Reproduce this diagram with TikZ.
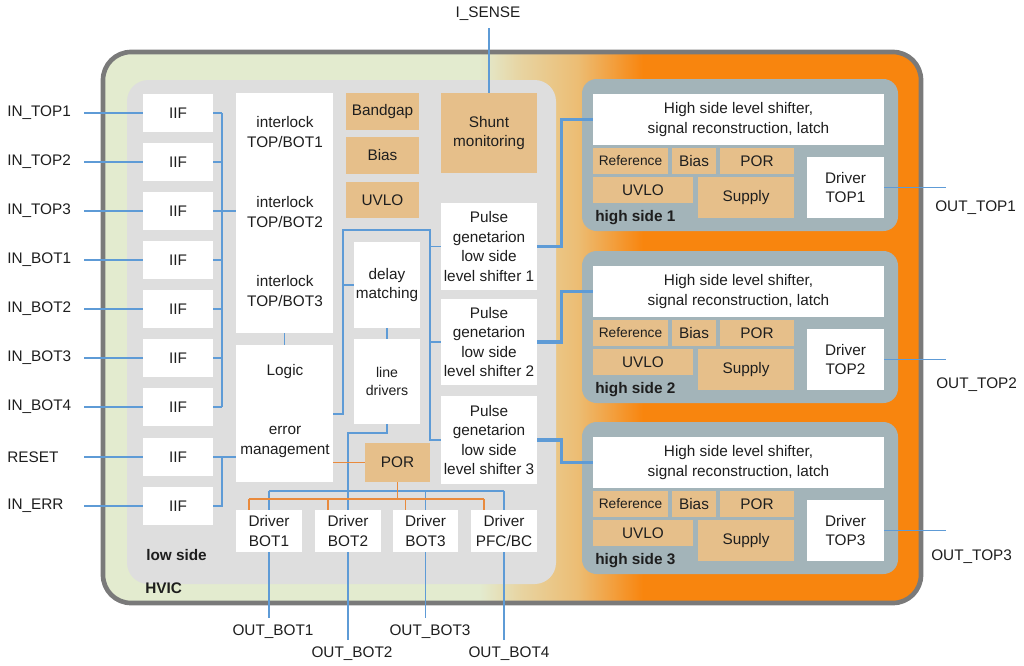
\documentclass[tikz,border=0pt]{standalone}
\usepackage{fontspec}
\setmainfont{Liberation Sans}
\usetikzlibrary{calc}
\definecolor{hvg}{HTML}{E3EBCF}
\definecolor{hvt}{HTML}{ECBD74}
\definecolor{hvo}{HTML}{F8850E}
\colorlet{hvm}{hvg!50!hvt}
\definecolor{tanc}{HTML}{E6BF8A}
\definecolor{lsg}{HTML}{DEDEDE}
\definecolor{hsg}{HTML}{A3B4B9}
\definecolor{bluel}{HTML}{5E9BD6}
\definecolor{orl}{HTML}{E98A3C}
\definecolor{bord}{HTML}{7A7A7A}
\definecolor{txt}{HTML}{1E1E1E}
\pgfdeclarehorizontalshading{hvicshade}{100bp}{color(0bp)=(hvg); color(48bp)=(hvg); color(50.5bp)=(hvm); color(54bp)=(hvt); color(58bp)=(hvo); color(100bp)=(hvo)}
\newcommand{\fsn}{\fontsize{11.5}{14.6}\selectfont}
\newcommand{\fsm}{\fontsize{10.6}{13}\selectfont}
\newcommand{\fss}{\fontsize{10.3}{12}\selectfont}
\newcommand{\fsb}{\fontsize{11.5}{14.6}\selectfont\bfseries}
\newcommand{\bx}[7]{\node[#2, minimum width={((#5)-(#3))*0.75pt}, minimum height={((#6)-(#4))*0.75pt}] (#1) at ({((#3)+(#5))/2},{((#4)+(#6))/2}) {#7};}
\begin{document}
\begin{tikzpicture}[x=0.75pt,y=-0.75pt,
  every node/.style={font=\fsn, text=txt},
  wbox/.style={fill=white, inner sep=0pt, align=center},
  tbox/.style={fill=tanc, inner sep=0pt, align=center},
  hspanel/.style={fill=hsg, inner sep=0pt, rounded corners=11pt},
  bl/.style={draw=bluel, line width=1.1pt},
  blt/.style={draw=bluel, line width=2.3pt},
  ol/.style={draw=orl, line width=1.1pt},
  lbl/.style={inner sep=0pt}]
\useasboundingbox (0,0) rectangle (1024,665);
% HVIC background
\shade[shading=hvicshade, draw=bord, line width=3.5pt, rounded corners=21pt] (103,52) rectangle (921,603);
\bx{lowside}{fill=lsg, inner sep=0pt, rounded corners=16pt}{127}{80}{556}{584}{}
\node[font=\fsb, lbl, anchor=west] (lsl) at (146,555) {low side};
\node[font=\fsb, lbl, anchor=west] (hvl) at (145,588) {HVIC};
% IIF inputs
\foreach \c/\t [count=\i] in {113/IN\_TOP1,162/IN\_TOP2,211/IN\_TOP3,260/IN\_BOT1,309/IN\_BOT2,358/IN\_BOT3,407/IN\_BOT4,457/RESET,506/IN\_ERR}{
  \bx{iif\i}{wbox}{143}{\c-19}{213}{\c+19}{IIF}
  \node[lbl, anchor=west] (in\i) at (7,\c) {\t};
  \coordinate (inp\i) at (84,\c);
  \draw[bl] (inp\i) -- (iif\i.west);
}
% interlock and logic
\bx{ilk}{wbox}{236}{93}{333}{333}{}
\node[align=center] (ilt1) at (285,132) {interlock\\TOP/BOT1};
\node[align=center] (ilt2) at (285,212) {interlock\\TOP/BOT2};
\node[align=center] (ilt3) at (285,291) {interlock\\TOP/BOT3};
\bx{logic}{wbox}{236}{345}{333}{482}{}
\node (lgt) at (285,372) {Logic};
\node[align=center] (emt) at (285,442) {error\\management};
% tan blocks
\bx{bg}{tbox}{346}{93}{419}{130}{Bandgap}
\bx{bias}{tbox}{346}{137}{419}{174}{Bias}
\bx{uvlo}{tbox}{346}{182}{419}{218}{UVLO}
\bx{shunt}{tbox}{441}{93}{537}{173}{Shunt\\monitoring}
\bx{por}{tbox}{365}{443}{430}{482}{POR}
% pulse generators
\bx{pg1}{wbox}{441}{203}{537}{290}{Pulse\\genetarion\\low side\\level shifter 1}
\bx{pg2}{wbox}{441}{299}{537}{385}{Pulse\\genetarion\\low side\\level shifter 2}
\bx{pg3}{wbox}{441}{396}{537}{484}{Pulse\\genetarion\\low side\\level shifter 3}
\bx{dm}{wbox}{354}{242}{420}{328}{delay\\matching}
\bx{ld}{wbox,font=\fsm}{354}{339}{420}{424}{line\\drivers}
% low side drivers
\bx{d1}{wbox}{236}{510}{302}{552}{Driver\\BOT1}
\bx{d2}{wbox}{315}{510}{381}{552}{Driver\\BOT2}
\bx{d3}{wbox}{393}{510}{458}{552}{Driver\\BOT3}
\bx{d4}{wbox}{471}{510}{537}{552}{Driver\\PFC/BC}
% IIF buses
\coordinate (busT) at (222,113);
\coordinate (busB) at (222,407);
\draw[bl] (busT) -- (busB);
\foreach \i in {1,...,7} \draw[bl] (iif\i.east) -- (iif\i.east -| busT);
\draw[bl] (iif3.east -| busT) -- (iif3.east -| ilk.west);
\draw[bl] (iif8.east) -- (iif8.east -| busT) -- (iif9.east -| busT) -- (iif9.east);
\draw[bl] (iif8.east -| busT) -- (iif8.east -| logic.west);
\draw[bl] (ilk.south) -- (logic.north);
% logic to pulse generators
\coordinate (a1) at (343,414);
\coordinate (a2) at (343,230);
\coordinate (a3) at (430,230);
\draw[bl] (a1 -| logic.east) -- (a1) -- (a2) -- (a3) -- (a3 |- pg3.west) -- (pg3.west);
\draw[bl] (dm.west -| a1) -- (dm.west);
\draw[bl] (pg1.west -| a3) -- (pg1.west);
\draw[bl] (pg2.west -| a3) -- (pg2.west);
\draw[bl] (dm.south) -- (ld.north);
% line drivers to drivers
\coordinate (b1) at (348,433);
\coordinate (b2) at (0,491);
\draw[bl] (ld.south) -- (ld.south |- b1) -- (b1) -- (d2.north);
\draw[bl] (d1.north |- b2) -- (d4.north |- b2);
\foreach \d in {d1,d3,d4} \draw[bl] (\d.north |- b2) -- (\d.north);
% POR distribution
\draw[ol] (por.west -| logic.east) -- (por.west);
\coordinate (c1) at (0,499);
\draw[ol] (por.south) -- (por.south |- c1);
\foreach \d in {d1,d2,d3,d4} \coordinate (\d o) at ($(\d.north)+(-20,0)$);
\draw[ol] (d1o |- c1) -- (d4o |- c1);
\foreach \d in {d1,d2,d3,d4} \draw[ol] (\d o |- c1) -- (\d o);
% bottom outputs
\coordinate (o1) at (269,618);
\coordinate (o2) at (348,640);
\coordinate (o3) at (425.5,618);
\coordinate (o4) at (504,640);
\foreach \k in {1,2,3,4} \draw[bl] (d\k.south) -- (d\k.south |- o\k);
\node[lbl] (ob1) at (273,632) {OUT\_BOT1};
\node[lbl] (ob2) at (352,654) {OUT\_BOT2};
\node[lbl] (ob3) at (430,632) {OUT\_BOT3};
\node[lbl] (ob4) at (509,654) {OUT\_BOT4};
% I_SENSE
\node[lbl] (isense) at (488,14) {I\_SENSE};
\coordinate (is) at (489,28);
\draw[bl] (is) -- (shunt.north);
% high side blocks
\foreach \T/\k/\ly/\lx in {79/1/208/935, 251/2/385/936, 422/3/557/931}{
  \bx{hs\k}{hspanel}{582}{\T}{898}{\T+152}{}
  \bx{hs\k w}{wbox}{593}{\T+15}{884}{\T+66}{High side level shifter,\\signal reconstruction, latch}
  \bx{hs\k r}{tbox,font=\fss}{593}{\T+69}{668}{\T+95}{Reference}
  \bx{hs\k b}{tbox}{672}{\T+69}{716}{\T+95}{Bias}
  \bx{hs\k p}{tbox}{720}{\T+69}{794}{\T+95}{POR}
  \bx{hs\k u}{tbox}{593}{\T+98}{693}{\T+124}{UVLO}
  \bx{hs\k s}{tbox}{698}{\T+98}{794}{\T+139}{Supply}
  \bx{hs\k d}{wbox}{807}{\T+78}{884}{\T+139}{Driver\\TOP\k}
  \node[font=\fsb, lbl, anchor=west] (hs\k l) at (595,\T+139) {high side \k};
  \coordinate (ot\k) at (946,\T+108.5);
  \draw[bl] (hs\k d.east) -- (ot\k);
  \node[lbl, anchor=west] (otl\k) at (\lx,\ly) {OUT\_TOP\k};
  \draw[blt] (pg\k.east) -- ++(24,0) |- (hs\k w.west);
}
\end{tikzpicture}
\end{document}
